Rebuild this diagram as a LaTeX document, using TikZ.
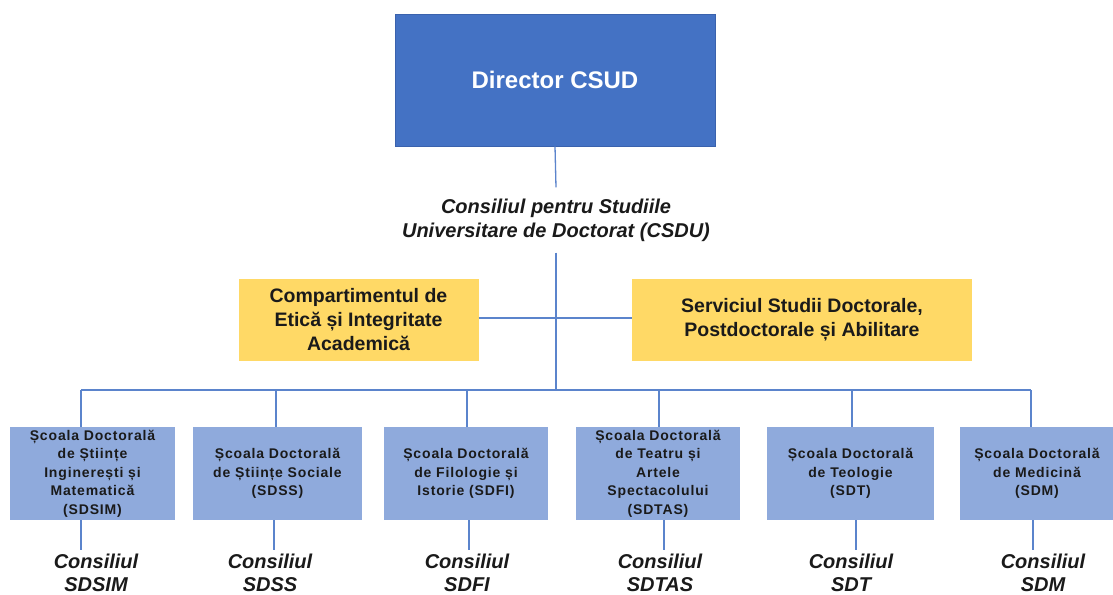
\documentclass[tikz,border=0pt]{standalone}
\usepackage{fontspec}
\setmainfont{Liberation Sans}
\newfontfamily\boxfont[LetterSpace=6]{Liberation Sans}
\definecolor{dirblue}{HTML}{4472C4}
\definecolor{dirborder}{HTML}{3A62AD}
\definecolor{linkblue}{HTML}{5B84CC}
\definecolor{ybox}{HTML}{FFD966}
\definecolor{lbox}{HTML}{8FAADC}
\definecolor{txt}{HTML}{1A1A1A}
\begin{document}
\begin{tikzpicture}[x=1pt,y=-1pt,
  link/.style={draw=linkblue,line width=1.3pt},
  dirbox/.style={rectangle,fill=dirblue,draw=dirborder,line width=0.8pt,minimum width=320pt,minimum height=132pt,inner sep=0pt,text=white,font=\bfseries\fontsize{24}{29}\selectfont},
  council/.style={align=center,text=txt,inner xsep=2pt,inner ysep=11pt,font=\bfseries\itshape\fontsize{20}{24}\selectfont},
  ybox/.style={rectangle,fill=ybox,draw=none,minimum height=82pt,inner sep=0pt,align=center,text=txt,font=\bfseries\fontsize{19.5}{24}\selectfont},
  sbox/.style={rectangle,fill=lbox,draw=none,minimum height=93pt,inner sep=0pt,align=center,text=txt,font=\boxfont\bfseries\fontsize{14}{18.5}\selectfont},
  sub/.style={align=center,text=txt,inner sep=0pt,font=\bfseries\itshape\fontsize{20}{22.5}\selectfont}]
\useasboundingbox (0,0) rectangle (1113,594);
\fill[white] (0,0) rectangle (1113,594);

% top
\node[dirbox] (dir) at (555,80) {Director CSUD};
\node[council] (csdu) at (556,220) {Consiliul pentru Studiile\\Universitare de Doctorat (CSDU)};

% yellow boxes
\node[ybox,minimum width=240pt] (etica) at (358.5,320) {Compartimentul de\\Etică și Integritate\\Academică};
\node[ybox,minimum width=340pt] (serv) at (802,320) {Serviciul Studii Doctorale,\\Postdoctorale și Abilitare};

% schools
\node[sbox,minimum width=165pt] (b1) at (92.5,473.5) {Școala Doctorală\\de Științe\\Inginerești și\\Matematică\\(SDSIM)};
\node[sbox,minimum width=169pt] (b2) at (277.5,473.5) {Școala Doctorală\\de Științe Sociale\\(SDSS)};
\node[sbox,minimum width=164pt] (b3) at (466,473.5) {Școala Doctorală\\de Filologie și\\Istorie (SDFI)};
\node[sbox,minimum width=164pt] (b4) at (658,473.5) {Școala Doctorală\\de Teatru și\\Artele\\Spectacolului\\(SDTAS)};
\node[sbox,minimum width=167pt] (b5) at (850.5,473.5) {Școala Doctorală\\de Teologie\\(SDT)};
\node[sbox,minimum width=154pt] (b6) at (1037,473.5) {Școala Doctorală\\de Medicină\\(SDM)};

% councils
\node[sub] (c1) at (96,573) {Consiliul\\SDSIM};
\node[sub] (c2) at (270,573) {Consiliul\\SDSS};
\node[sub] (c3) at (467,573) {Consiliul\\SDFI};
\node[sub] (c4) at (660,573) {Consiliul\\SDTAS};
\node[sub] (c5) at (851,573) {Consiliul\\SDT};
\node[sub] (c6) at (1043,573) {Consiliul\\SDM};

% bus coordinates
\coordinate (bus) at (556,390);
\coordinate (d1) at (81,390);
\coordinate (d2) at (276,390);
\coordinate (d3) at (467,390);
\coordinate (d4) at (659,390);
\coordinate (d5) at (852,390);
\coordinate (d6) at (1031,390);
\coordinate (e1) at (81,550);
\coordinate (e2) at (274,550);
\coordinate (e3) at (469,550);
\coordinate (e4) at (664,550);
\coordinate (e5) at (856,550);
\coordinate (e6) at (1033,550);

% connectors
\draw[link] (dir.south) -- (csdu.north);
\draw[link] (csdu.south) -- (bus);
\draw[link] ([yshift=2pt]etica.east) -- ([yshift=2pt]serv.west);
\draw[link] (d1) -- (d6);
\foreach \i in {1,...,6}{
  \draw[link] (d\i) -- (d\i |- b\i.north);
  \draw[link] (e\i |- b\i.south) -- (e\i);
}
\end{tikzpicture}
\end{document}
